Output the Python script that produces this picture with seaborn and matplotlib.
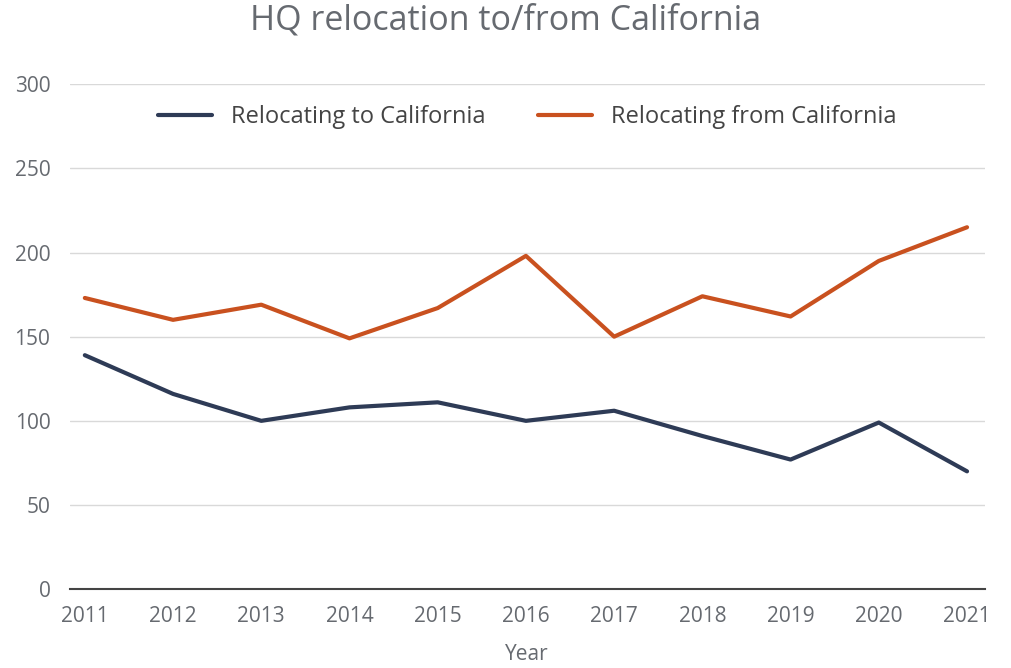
import matplotlib
matplotlib.use("Agg")
import matplotlib.pyplot as plt
import seaborn as sns
import pandas as pd

years = [2011, 2012, 2013, 2014, 2015, 2016, 2017, 2018, 2019, 2020, 2021]
to_california = [139, 116, 100, 108, 111, 100, 106, 91, 77, 99, 70]
from_california = [173, 160, 169, 149, 167, 198, 150, 174, 162, 195, 215]
series_names = ["Relocating to California", "Relocating from California"]
colors = ["#2e3b56", "#c9511f"]

df = pd.DataFrame({
    "Year": years * 2,
    "Count": to_california + from_california,
    "Series": [series_names[0]] * len(years) + [series_names[1]] * len(years),
})

sns.set_style("white")
plt.rcParams["font.family"] = ["Open Sans", "DejaVu Sans"]
text_gray = "#666a70"

fig = plt.figure(figsize=(10.12, 6.68), dpi=100)
ax = fig.add_axes([0.069, 0.118, 0.904, 0.756])

sns.lineplot(data=df, x="Year", y="Count", hue="Series", hue_order=series_names,
             palette=colors, linewidth=3, ax=ax)

ax.set_ylim(0, 300)
ax.set_xlim(2011 - 0.17, 2021 + 0.2)
ax.set_yticks(range(0, 301, 50))
ax.set_xticks(years)
ax.grid(axis="y", color="#d9d9d9", linewidth=1)
ax.set_axisbelow(True)
for side in ["top", "right", "left"]:
    ax.spines[side].set_visible(False)
ax.spines["bottom"].set_color("#444444")
ax.spines["bottom"].set_linewidth(1.5)
ax.tick_params(axis="both", length=0, labelsize=15, colors=text_gray)
ax.tick_params(axis="x", pad=12)
ax.tick_params(axis="y", pad=14)
ax.set_ylabel("")
ax.set_xlabel("Year", fontsize=15, color=text_gray, labelpad=12)

leg = ax.legend(loc="upper center", bbox_to_anchor=(0.5, 1.0), ncol=2, frameon=False,
                fontsize=17, handlelength=2.3, columnspacing=2.2, handletextpad=0.8)
for t in leg.get_texts():
    t.set_color("#444444")

fig.suptitle("HQ relocation to/from California", x=0.5, y=0.995, fontsize=24.5, color=text_gray)

fig.savefig("out.png", dpi=100)
